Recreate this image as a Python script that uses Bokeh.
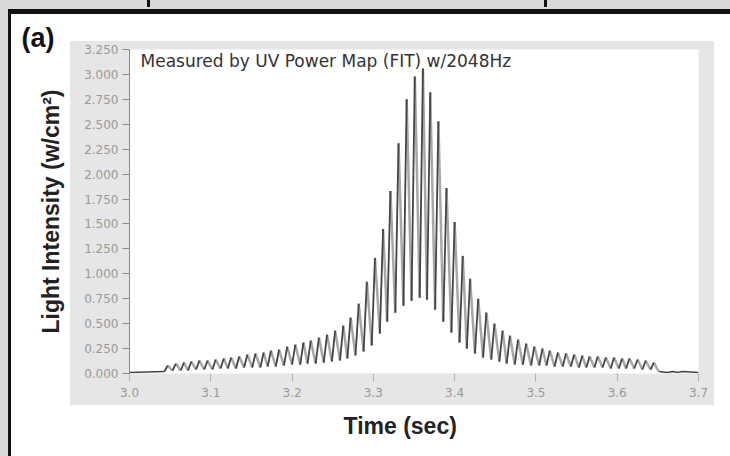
from bokeh.plotting import figure
from bokeh.models import Label, Title, PrintfTickFormatter, FixedTicker, Range1d
from bokeh.embed import file_html
from bokeh.resources import INLINE

# ---------------- data ----------------
title_text = "Measured by UV Power Map (FIT) w/2048Hz"
x_label = "Time (sec)"
y_label = "Light Intensity (w/cm\u00b2)"
panel_label = "(a)"

x_ticks = [3.0, 3.1, 3.2, 3.3, 3.4, 3.5, 3.6, 3.7]
y_ticks = [0.0, 0.25, 0.5, 0.75, 1.0, 1.25, 1.5, 1.75, 2.0, 2.25, 2.5, 2.75, 3.0, 3.25]

# flat baseline before and after the pulse train
pre_time = [3.000, 3.043]
pre_value = [0.01, 0.02]
post_time = [3.651, 3.662, 3.668, 3.674, 3.680, 3.700]
post_value = [0.02, 0.01, 0.02, 0.01, 0.02, 0.01]

# trough times / values (one more trough than peaks: the last one ends the train)
trough_time = [3.043, 3.053, 3.063, 3.072, 3.082, 3.092, 3.102, 3.112, 3.121, 3.131,
               3.141, 3.151, 3.161, 3.170, 3.180, 3.190, 3.200, 3.210, 3.219, 3.229,
               3.239, 3.249, 3.259, 3.268, 3.278, 3.288, 3.298, 3.308, 3.317, 3.327,
               3.337, 3.347, 3.357, 3.366, 3.376, 3.386, 3.396, 3.406, 3.415, 3.425,
               3.435, 3.445, 3.455, 3.464, 3.474, 3.484, 3.494, 3.504, 3.513, 3.523,
               3.533, 3.543, 3.553, 3.562, 3.572, 3.582, 3.592, 3.602, 3.611, 3.621,
               3.631, 3.641, 3.651]
trough_value = [0.02, 0.03, 0.03, 0.03, 0.04, 0.04, 0.04, 0.05, 0.05, 0.05,
                0.06, 0.06, 0.06, 0.07, 0.07, 0.08, 0.09, 0.09, 0.10, 0.10,
                0.11, 0.12, 0.13, 0.15, 0.18, 0.22, 0.28, 0.40, 0.52, 0.61,
                0.68, 0.73, 0.76, 0.74, 0.64, 0.52, 0.41, 0.31, 0.25, 0.20,
                0.16, 0.14, 0.12, 0.10, 0.09, 0.09, 0.08, 0.08, 0.08, 0.07,
                0.07, 0.07, 0.06, 0.06, 0.06, 0.06, 0.05, 0.05, 0.05, 0.05,
                0.04, 0.04, 0.02]

peak_time = [3.047, 3.057, 3.067, 3.076, 3.086, 3.096, 3.106, 3.116, 3.125, 3.135,
             3.145, 3.155, 3.165, 3.174, 3.184, 3.194, 3.204, 3.214, 3.223, 3.233,
             3.243, 3.253, 3.263, 3.272, 3.282, 3.292, 3.302, 3.312, 3.321, 3.331,
             3.341, 3.351, 3.361, 3.370, 3.380, 3.390, 3.400, 3.410, 3.419, 3.429,
             3.439, 3.449, 3.459, 3.468, 3.478, 3.488, 3.498, 3.508, 3.517, 3.527,
             3.537, 3.547, 3.557, 3.566, 3.576, 3.586, 3.596, 3.606, 3.615, 3.625,
             3.635, 3.645]
peak_value = [0.08, 0.10, 0.11, 0.12, 0.13, 0.13, 0.14, 0.15, 0.16, 0.17,
              0.19, 0.20, 0.21, 0.23, 0.24, 0.27, 0.29, 0.31, 0.33, 0.36,
              0.39, 0.43, 0.48, 0.56, 0.70, 0.92, 1.16, 1.45, 1.83, 2.31,
              2.75, 2.98, 3.06, 2.82, 2.53, 1.86, 1.52, 1.18, 0.95, 0.75,
              0.61, 0.50, 0.43, 0.38, 0.34, 0.30, 0.27, 0.25, 0.23, 0.21,
              0.20, 0.19, 0.18, 0.17, 0.17, 0.16, 0.16, 0.15, 0.15, 0.14,
              0.13, 0.11]

# ---------------- page background (grey panel + page edges), via CSS ----------------
page_bg = ", ".join([
    "linear-gradient(#111111,#111111) 147px 0px / 3px 7px no-repeat",
    "linear-gradient(#111111,#111111) 544px 0px / 3px 7px no-repeat",
    "linear-gradient(#111111,#111111) 8px 9px / 722px 5px no-repeat",
    "linear-gradient(#111111,#111111) 8px 9px / 3px 447px no-repeat",
    "linear-gradient(#d9d9d9,#d9d9d9) 0px 0px / 730px 9px no-repeat",
    "linear-gradient(#d9d9d9,#d9d9d9) 0px 0px / 8px 456px no-repeat",
    "linear-gradient(#e6e6e6,#e6e6e6) 70px 41px / 644px 364px no-repeat",
    "#ffffff",
])

# ---------------- figure ----------------
W, H = 730, 456
p = figure(width=W, height=H, output_backend="svg", toolbar_location=None,
           x_range=Range1d(3.0, 3.7), y_range=Range1d(0.0, 3.25),
           min_border_left=129, min_border_right=32, min_border_top=49, min_border_bottom=83,
           background_fill_color="white", border_fill_color=None)
p.styles = {"background": page_bg}
p.outline_line_color = None
p.xgrid.visible = False
p.ygrid.visible = False

# panel label "(a)" as the figure title, pulled to the page's left
p.title.text = panel_label
p.title.align = "left"
p.title.vertical_align = "top"
p.title.offset = -108
p.title.standoff = -10
p.title.text_font = "Liberation Sans"
p.title.text_font_style = "bold"
p.title.text_font_size = "27px"
p.title.text_color = "#111111"

# ---------------- data glyphs ----------------
n = len(peak_time)
p.line(pre_time, pre_value, line_color="#444444", line_width=1.5)
p.line(post_time, post_value, line_color="#444444", line_width=1.5)
# falling edges (lighter)
p.segment(x0=peak_time, y0=peak_value, x1=trough_time[1:n + 1], y1=trough_value[1:n + 1],
          line_color="#a8a8a8", line_width=2.5)
# rising edges (dark)
p.segment(x0=trough_time[:n], y0=trough_value[:n], x1=peak_time, y1=peak_value,
          line_color="#444444", line_width=1.8)

# ---------------- axes ----------------
ax = p.yaxis[0]
ax.ticker = FixedTicker(ticks=y_ticks)
ax.formatter = PrintfTickFormatter(format="%.3f")
ax.major_tick_out = 7
ax.major_tick_in = 0
ax.minor_tick_line_color = None
ax.axis_line_color = "#8a8a8a"
ax.major_tick_line_color = "#8a8a8a"
ax.major_label_text_color = "#999999"
ax.major_label_text_font = "DejaVu Sans"
ax.major_label_text_font_size = "12px"
ax.major_label_standoff = 4
ax.axis_label = y_label
ax.axis_label_text_font = "Liberation Sans"
ax.axis_label_text_font_style = "bold"
ax.axis_label_text_font_size = "23px"
ax.axis_label_text_color = "#222222"
ax.axis_label_standoff = 17

bx = p.xaxis[0]
bx.ticker = FixedTicker(ticks=x_ticks)
bx.formatter = PrintfTickFormatter(format="%.1f")
bx.major_tick_out = 8
bx.major_tick_in = 0
bx.minor_tick_line_color = None
bx.axis_line_color = None
bx.major_tick_line_color = "#b0b0b0"
bx.major_label_text_color = "#999999"
bx.major_label_text_font = "DejaVu Sans"
bx.major_label_text_font_size = "12px"
bx.major_label_standoff = 6

p.add_layout(Title(text=x_label, align="left", offset=214, standoff=23,
                   text_font="Liberation Sans", text_font_style="bold",
                   text_font_size="23px", text_color="#222222"), "below")

# ---------------- in-plot caption ----------------
p.add_layout(Label(x=140, y=60, x_units="canvas", y_units="canvas", text=title_text,
                   text_font="DejaVu Sans", text_font_size="17px", text_color="#333333",
                   text_baseline="middle", text_align="left"))

with open("out.html", "w") as f:
    f.write(file_html(p, INLINE))
